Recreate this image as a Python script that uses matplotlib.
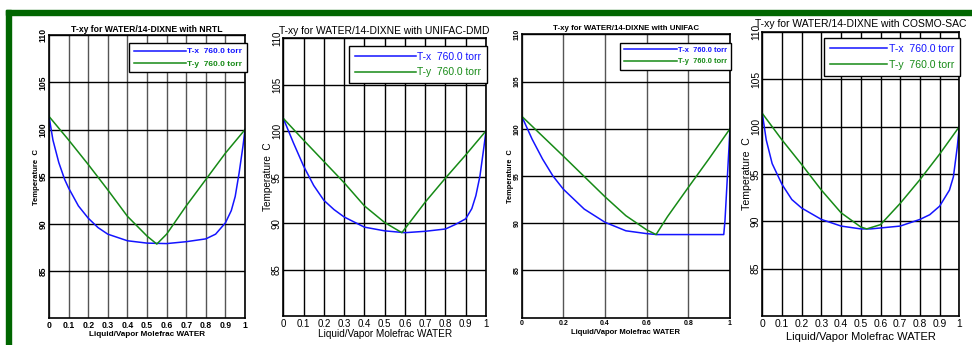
import matplotlib
matplotlib.use("Agg")
import matplotlib.pyplot as plt
from matplotlib.patches import Rectangle

# ---------------- data ----------------
titles = ["T-xy for WATER/14-DIXNE with NRTL",
          "T-xy for WATER/14-DIXNE with UNIFAC-DMD",
          "T-xy for WATER/14-DIXNE with UNIFAC",
          "T-xy for WATER/14-DIXNE with COSMO-SAC"]
legend_labels = ["T-x  760.0 torr", "T-y  760.0 torr"]
xlabel_text = "Liquid/Vapor Molefrac WATER"
ylabel_text = "Temperature  C"
yticks = [85, 90, 95, 100, 105, 110]
xticks_fine = [0, 0.1, 0.2, 0.3, 0.4, 0.5, 0.6, 0.7, 0.8, 0.9, 1]
xticklabels_fine = ["0", "0.1", "0.2", "0.3", "0.4", "0.5", "0.6", "0.7", "0.8", "0.9", "1"]
xticks_coarse = [0, 0.2, 0.4, 0.6, 0.8, 1]
xticklabels_coarse = ["0", "0.2", "0.4", "0.6", "0.8", "1"]

# NRTL
nrtl_x = [0, 0.02, 0.05, 0.08, 0.1, 0.15, 0.2, 0.25, 0.3, 0.4, 0.5, 0.6, 0.7, 0.8, 0.85, 0.9, 0.93, 0.95, 0.97, 0.99, 1.0]
nrtl_Tx = [101.4, 98.9, 96.5, 94.7, 93.8, 91.9, 90.6, 89.6, 88.9, 88.2, 87.95, 87.9, 88.1, 88.4, 88.9, 90.1, 91.4, 92.9, 95.4, 98.3, 100.0]
nrtl_y = [0, 0.1, 0.2, 0.3, 0.4, 0.5, 0.55, 0.6, 0.7, 0.8, 0.9, 1.0]
nrtl_Ty = [101.4, 98.9, 96.3, 93.6, 90.8, 88.7, 87.85, 88.9, 91.9, 94.7, 97.5, 100.0]

# UNIFAC-DMD
dmd_x = [0, 0.05, 0.1, 0.15, 0.2, 0.25, 0.3, 0.4, 0.5, 0.6, 0.7, 0.8, 0.85, 0.9, 0.93, 0.95, 0.97, 0.99, 1.0]
dmd_Tx = [101.35, 98.7, 96.2, 94.1, 92.5, 91.5, 90.7, 89.6, 89.2, 89.0, 89.15, 89.4, 89.9, 90.5, 91.6, 93.0, 95.1, 98.3, 100.0]
dmd_y = [0, 0.1, 0.2, 0.3, 0.4, 0.5, 0.585, 0.7, 0.8, 0.9, 1.0]
dmd_Ty = [101.35, 99.0, 96.7, 94.4, 91.9, 90.1, 89.0, 92.3, 94.9, 97.4, 100.0]

# UNIFAC
uni_x = [0, 0.05, 0.1, 0.15, 0.2, 0.3, 0.4, 0.5, 0.6, 0.65, 0.97, 0.976, 1.0]
uni_Tx = [101.33, 98.9, 96.8, 95.0, 93.6, 91.5, 90.1, 89.2, 88.9, 88.8, 88.8, 90.3, 100.0]
uni_y = [0, 0.2, 0.4, 0.5, 0.6, 0.645, 0.7, 0.8, 0.9, 1.0]
uni_Ty = [101.33, 97.1, 92.8, 90.8, 89.3, 88.8, 90.7, 93.8, 96.85, 100.0]

# COSMO-SAC
cos_x = [0, 0.02, 0.05, 0.1, 0.15, 0.2, 0.3, 0.4, 0.5, 0.55, 0.6, 0.7, 0.8, 0.85, 0.9, 0.95, 0.97, 0.99, 1.0]
cos_Tx = [101.4, 98.6, 96.1, 93.9, 92.3, 91.4, 90.2, 89.5, 89.2, 89.2, 89.3, 89.5, 90.2, 90.7, 91.6, 93.3, 94.7, 97.9, 100.0]
cos_y = [0, 0.1, 0.2, 0.3, 0.4, 0.5, 0.53, 0.6, 0.7, 0.8, 0.9, 1.0]
cos_Ty = [101.4, 98.6, 96.0, 93.3, 90.9, 89.4, 89.2, 89.65, 91.9, 94.4, 97.1, 100.0]

datasets = [(nrtl_x, nrtl_Tx, nrtl_y, nrtl_Ty),
            (dmd_x, dmd_Tx, dmd_y, dmd_Ty),
            (uni_x, uni_Tx, uni_y, uni_Ty),
            (cos_x, cos_Tx, cos_y, cos_Ty)]

# ---------------- layout ----------------
W, H = 972, 345
fig = plt.figure(figsize=(W / 100, H / 100), dpi=100)
plt.rcParams['font.family'] = ['Liberation Sans', 'DejaVu Sans']

# axes boxes in pixels: left, right, top, bottom
boxes = [(49, 245, 35.4, 318), (283.3, 486, 38.3, 316),
         (521.7, 730, 34.3, 317.7), (762.3, 959.3, 32, 316)]
title_y = [29, 30.7, 28.3, 24]
xlabel_y = [334, 334, 333, 337]
ylabel_x = [36.5, 268, 510, 747]
legend_top = [43, 46, 42.7, 38.3]
legend_right = [247, 486.7, 731, 960]
# font sizes: title, xlabel, ylabel, ticks, legend, weight, handlelength
styles = [
    (6.2, 5.9, 5.6, 6.2, 6.0, 'bold', 6.3),
    (7.4, 7.2, 7.2, 7.0, 7.4, 'normal', 5.9),
    (5.7, 5.5, 5.3, 5.0, 5.4, 'bold', 7.0),
    (7.5, 8.0, 7.6, 7.4, 7.6, 'normal', 5.4),
]
fine = [True, True, False, True]

BLUE = '#1414ff'
GREEN = '#168a16'

for i, (l, r, t, b) in enumerate(boxes):
    tfs, xfs, yfs, tkfs, legfs, wt, hl = styles[i]
    ax = fig.add_axes([l / W, 1 - b / H, (r - l) / W, (b - t) / H])
    xs, Tx, ys, Ty = datasets[i]
    ax.plot(xs, Tx, color=BLUE, lw=1.1, label=legend_labels[0])
    ax.plot(ys, Ty, color=GREEN, lw=1.1, label=legend_labels[1])
    ax.set_xlim(0, 1)
    ax.set_ylim(80, 110)
    if fine[i]:
        ax.set_xticks(xticks_fine)
        ax.set_xticklabels(xticklabels_fine, fontsize=tkfs, fontweight=wt)
    else:
        ax.set_xticks(xticks_coarse)
        ax.set_xticklabels(xticklabels_coarse, fontsize=tkfs, fontweight=wt)
    ax.set_yticks(yticks)
    ax.set_yticklabels([str(v) for v in yticks], fontsize=tkfs, fontweight=wt,
                       rotation=90, va='center')
    ax.tick_params(axis='x', length=0, pad=2)
    ax.tick_params(axis='y', length=0, pad=1)
    vcol = '#555555' if wt == 'bold' else 'black'
    ax.grid(True, axis='x', color=vcol, lw=1.0)
    ax.grid(True, axis='y', color='black', lw=1.0)
    ax.set_axisbelow(True)
    for s in ax.spines.values():
        s.set_linewidth(1.2)
        s.set_color('black')
    ax.text(0.5, (b - title_y[i]) / (b - t), titles[i], transform=ax.transAxes,
            ha='center', va='center', fontsize=tfs, fontweight=wt)
    ax.set_xlabel(xlabel_text, fontsize=xfs, fontweight=wt)
    ax.xaxis.set_label_coords(0.5, -(xlabel_y[i] - b) / (b - t))
    ax.xaxis.label.set_va('center')
    ax.set_ylabel(ylabel_text, fontsize=yfs, fontweight=wt)
    ax.yaxis.set_label_coords((ylabel_x[i] - l) / (r - l), 0.5)
    ax.yaxis.label.set_va('center')
    leg = ax.legend(loc='upper right',
                    bbox_to_anchor=((legend_right[i] - l) / (r - l), (b - legend_top[i]) / (b - t)),
                    borderaxespad=0, labelcolor='linecolor',
                    handlelength=hl, handletextpad=0.15, fancybox=False,
                    framealpha=1, edgecolor='black', borderpad=0.55,
                    labelspacing=0.55,
                    prop={'size': legfs, 'weight': wt})
    leg.get_frame().set_linewidth(1.0)

# green frame
fig.patches.append(Rectangle((6 / W, 0), 5 / W, 1 - 10 / H, transform=fig.transFigure,
                             color='#006600', zorder=10))
fig.patches.append(Rectangle((6 / W, 1 - 15 / H), 1 - 6 / W, 5 / H, transform=fig.transFigure,
                             color='#006600', zorder=10))

fig.savefig('out.png', dpi=100)
